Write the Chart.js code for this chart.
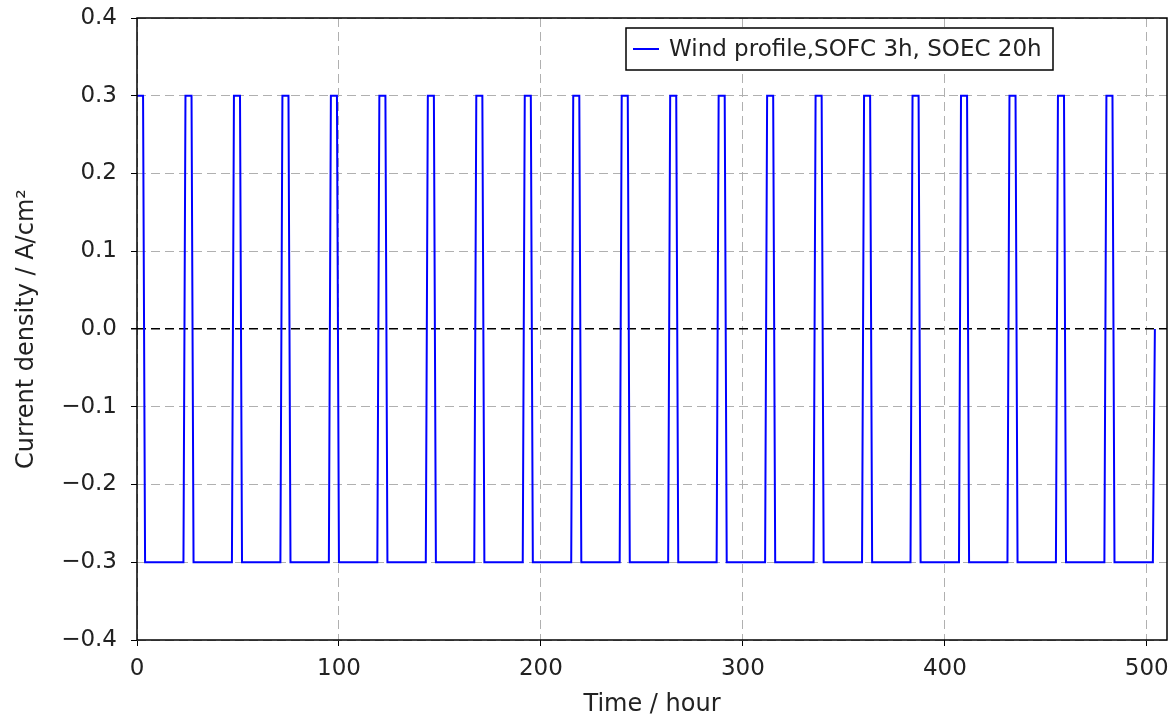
<!DOCTYPE html>
<html>
<head>
<meta charset="utf-8">
<script src="https://cdn.jsdelivr.net/npm/chart.js@4.4.1/dist/chart.umd.min.js"></script>
<style>
html,body{margin:0;padding:0;background:#fff;}
#wrap{width:1173px;height:719px;position:relative;}
</style>
</head>
<body>
<div id="wrap"><canvas id="c" width="1173" height="719"></canvas></div>
<script>
// ---- data (transition points of the square-wave profile) ----
const seriesLabel = "Wind profile,SOFC 3h, SOEC 20h";
const timeHours = [
  0, 3, 4, 23,
  24, 27, 28, 47,
  48, 51, 52, 71,
  72, 75, 76, 95,
  96, 99, 100, 119,
  120, 123, 124, 143,
  144, 147, 148, 167,
  168, 171, 172, 191,
  192, 195, 196, 215,
  216, 219, 220, 239,
  240, 243, 244, 263,
  264, 267, 268, 287,
  288, 291, 292, 311,
  312, 315, 316, 335,
  336, 339, 340, 359,
  360, 363, 364, 383,
  384, 387, 388, 407,
  408, 411, 412, 431,
  432, 435, 436, 455,
  456, 459, 460, 479,
  480, 483, 484, 503,
  504
];
const currentDensity = [
  0.3, 0.3, -0.3, -0.3,
  0.3, 0.3, -0.3, -0.3,
  0.3, 0.3, -0.3, -0.3,
  0.3, 0.3, -0.3, -0.3,
  0.3, 0.3, -0.3, -0.3,
  0.3, 0.3, -0.3, -0.3,
  0.3, 0.3, -0.3, -0.3,
  0.3, 0.3, -0.3, -0.3,
  0.3, 0.3, -0.3, -0.3,
  0.3, 0.3, -0.3, -0.3,
  0.3, 0.3, -0.3, -0.3,
  0.3, 0.3, -0.3, -0.3,
  0.3, 0.3, -0.3, -0.3,
  0.3, 0.3, -0.3, -0.3,
  0.3, 0.3, -0.3, -0.3,
  0.3, 0.3, -0.3, -0.3,
  0.3, 0.3, -0.3, -0.3,
  0.3, 0.3, -0.3, -0.3,
  0.3, 0.3, -0.3, -0.3,
  0.3, 0.3, -0.3, -0.3,
  0.3, 0.3, -0.3, -0.3,
  0.0
];
const xTicks = [0, 100, 200, 300, 400, 500];
const yTicks = [-0.4, -0.3, -0.2, -0.1, 0.0, 0.1, 0.2, 0.3, 0.4];
const xTitle = "Time / hour";
const yTitle = "Current density / A/cm\u00B2";

const FONT = "'DejaVu Sans', sans-serif";

const points = timeHours.map((t, i) => ({x: t, y: currentDensity[i]}));

function fmtY(v){
  const s = Math.abs(v).toFixed(1);
  return (v < -1e-9 ? "\u2212" : "") + s;
}
const isZero = ctx => ctx.tick && Math.abs(ctx.tick.value) < 1e-9;

const frameLegend = {
  id: 'frameLegend',
  afterDraw(chart){
    const ctx = chart.ctx;
    const a = chart.chartArea;
    ctx.save();
    // frame
    ctx.strokeStyle = '#000';
    ctx.lineWidth = 1.5;
    ctx.strokeRect(a.left, a.top, a.right - a.left, a.bottom - a.top);
    // legend box
    const bx = 626, by = 28, bw = 427, bh = 42;
    ctx.fillStyle = '#fff';
    ctx.fillRect(bx, by, bw, bh);
    ctx.lineWidth = 1.5;
    ctx.strokeStyle = '#000';
    ctx.strokeRect(bx, by, bw, bh);
    ctx.strokeStyle = '#0000ff';
    ctx.lineWidth = 2;
    ctx.beginPath();
    ctx.moveTo(bx + 7, by + bh/2);
    ctx.lineTo(bx + 33, by + bh/2);
    ctx.stroke();
    ctx.fillStyle = '#222';
    ctx.font = "23px " + FONT;
    ctx.textBaseline = 'middle';
    ctx.textAlign = 'left';
    ctx.fillText(chart.data.datasets[0].label, bx + 43, by + bh/2 + 1);
    ctx.restore();
  }
};

new Chart(document.getElementById('c'), {
  type: 'line',
  data: {
    datasets: [{
      label: seriesLabel,
      data: points,
      borderColor: '#0000ff',
      borderWidth: 2,
      pointRadius: 0,
      fill: false,
      tension: 0
    }]
  },
  options: {
    responsive: false,
    animation: false,
    devicePixelRatio: 1,
    layout: {padding: {left: 0, right: 6, top: 18, bottom: 0}},
    plugins: {legend: {display: false}, tooltip: {enabled: false}},
    scales: {
      x: {
        type: 'linear',
        min: 0, max: 510,
        afterBuildTicks(scale){ scale.ticks = xTicks.map(v => ({value: v})); },
        afterFit(scale){ scale.height = 79; scale.paddingLeft = 0; scale.paddingRight = 0; },
        grid: {
          color: '#b0b0b0',
          lineWidth: 1,
          tickColor: '#000',
          tickLength: 6,
          tickBorderDash: [],
          drawTicks: true
        },
        border: {display: false, dash: [9, 5]},
        ticks: {
          color: '#222',
          font: {family: FONT, size: 23},
          padding: 9,
          maxRotation: 0,
          callback: v => String(v)
        },
        title: {
          display: true, text: xTitle, color: '#222',
          font: {family: FONT, size: 24},
          padding: {top: 0, bottom: 0}
        }
      },
      y: {
        type: 'linear',
        min: -0.4, max: 0.4,
        afterBuildTicks(scale){ scale.ticks = yTicks.map(v => ({value: v})); },
        afterFit(scale){ scale.width = 137; scale.paddingTop = 0; scale.paddingBottom = 0; },
        grid: {
          color: ctx => (isZero(ctx) ? '#000' : '#b0b0b0'),
          lineWidth: ctx => (isZero(ctx) ? 1.5 : 1),
          tickColor: '#000',
          tickLength: 6,
          tickBorderDash: []
        },
        border: {display: false, dash: [9, 5]},
        ticks: {
          color: '#222',
          font: {family: FONT, size: 23},
          padding: 14,
          callback: v => fmtY(v)
        },
        title: {
          display: true, text: yTitle, color: '#222',
          font: {family: FONT, size: 24},
          padding: {top: 12, bottom: 0}
        }
      }
    }
  },
  plugins: [frameLegend]
});
</script>
</body>
</html>
